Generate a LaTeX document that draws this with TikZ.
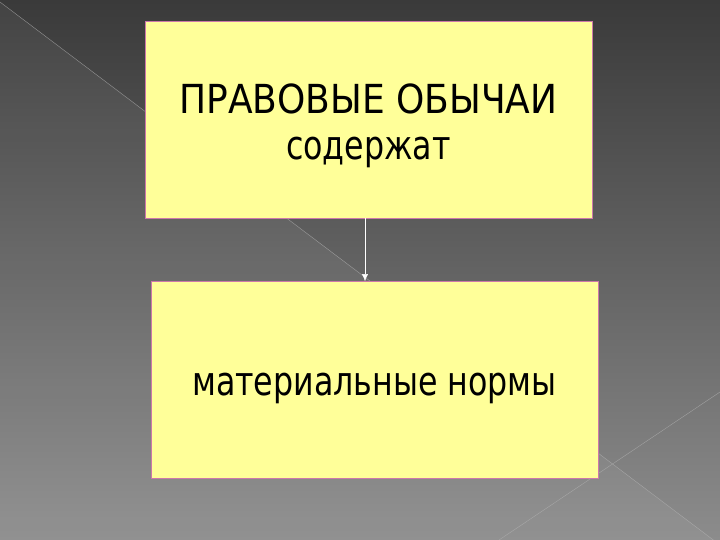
\documentclass[tikz,border=0pt]{standalone}
\usepackage{fontspec}
\setmainfont{DejaVu Sans Condensed}
\newfontfamily\narrowfont[FakeStretch=0.88]{DejaVu Sans Condensed}
\usetikzlibrary{arrows.meta}
\definecolor{boxfill}{RGB}{255,255,153}
\definecolor{boxline}{RGB}{205,120,170}
\definecolor{bgtop}{RGB}{58,58,58}
\definecolor{bgbottom}{RGB}{140,140,140}
\begin{document}
\begin{tikzpicture}[x=1pt,y=1pt,
	box/.style={draw=boxline,line width=0.8pt,fill=boxfill,minimum width=447pt,minimum height=197pt,inner sep=0pt},
	boxtext/.style={align=center,inner sep=0pt,font=\fontsize{40}{46}\selectfont}]
	\useasboundingbox (0,0) rectangle (720,-540);
	\shade[top color=bgtop,bottom color=bgbottom] (0,0) rectangle (720,-540);
	\fill[white,opacity=0.05] (0,-2) -- (720,-545) -- (0,-540) -- cycle;
	\draw[gray!60,opacity=0.7] (0,-2) -- (720,-545);
	\draw[gray!60,opacity=0.7] (499,-540) -- (720,-392);
	\node[box] (obychai) at (368.5,-119.5) {};
	\node[box] (normy) at (374.5,-380) {};
	\node[boxtext] (obychaitext) at ([yshift=-6pt]obychai.center) {ПРАВОВЫЕ ОБЫЧАИ\\{\narrowfont содержат}};
	\node[boxtext] (normytext) at ([yshift=-8pt]normy.center) {\narrowfont материальные нормы};
	\coordinate (ax) at (365,0);
	\draw[-{Latex[length=7pt,width=6pt]},white] (obychai.south -| ax) -- (normy.north -| ax);
\end{tikzpicture}
\end{document}
